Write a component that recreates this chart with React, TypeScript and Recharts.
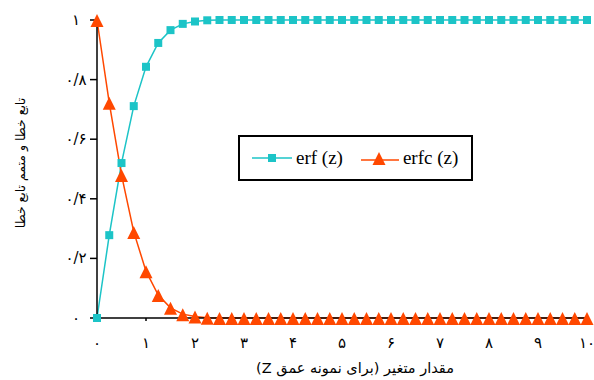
import { LineChart, Line, XAxis, YAxis } from 'recharts';

const zValues = [
  0, 0.25, 0.5, 0.75, 1, 1.25, 1.5, 1.75, 2, 2.25, 2.5, 2.75, 3, 3.25, 3.5, 3.75,
  4, 4.25, 4.5, 4.75, 5, 5.25, 5.5, 5.75, 6, 6.25, 6.5, 6.75, 7, 7.25, 7.5, 7.75,
  8, 8.25, 8.5, 8.75, 9, 9.25, 9.5, 9.75, 10,
];
const erfValues = [
  0, 0.278, 0.52, 0.711, 0.843, 0.923, 0.966, 0.987, 0.995, 0.999, 1, 1, 1, 1, 1, 1,
  1, 1, 1, 1, 1, 1, 1, 1, 1, 1, 1, 1, 1, 1, 1, 1,
  1, 1, 1, 1, 1, 1, 1, 1, 1,
];
const erfcValues = [
  1, 0.722, 0.48, 0.289, 0.157, 0.077, 0.034, 0.013, 0.005, 0.001, 0, 0, 0, 0, 0, 0,
  0, 0, 0, 0, 0, 0, 0, 0, 0, 0, 0, 0, 0, 0, 0, 0,
  0, 0, 0, 0, 0, 0, 0, 0, 0,
];
const xTicks = [0, 1, 2, 3, 4, 5, 6, 7, 8, 9, 10];
const xTickLabels = ['۰', '۱', '۲', '۳', '۴', '۵', '۶', '۷', '۸', '۹', '۱۰'];
const yTicks = [0, 0.2, 0.4, 0.6, 0.8, 1];
const yTickLabels = ['۰', '۰/۲', '۰/۴', '۰/۶', '۰/۸', '۱'];

const CYAN = '#1CC4C7';
const ORANGE = '#FF4800';

const data = zValues.map((z, i) => ({ z, erf: erfValues[i], erfc: erfcValues[i] }));

const SquareDot = (props: any) => {
  const { cx, cy, index } = props;
  if (cx == null || cy == null) return null;
  return <rect key={'s' + index} x={cx - 4} y={cy - 4} width={8} height={8} fill={CYAN} />;
};

const TriangleDot = (props: any) => {
  const { cx, cy, index } = props;
  if (cx == null || cy == null) return null;
  return (
    <polygon
      key={'t' + index}
      points={`${cx},${cy - 6} ${cx - 6.5},${cy + 7} ${cx + 6.5},${cy + 7}`}
      fill={ORANGE}
    />
  );
};

const XTick = (props: any) => {
  const { x, y, payload } = props;
  const i = xTicks.indexOf(payload.value);
  return (
    <text x={x} y={y} dy={27} textAnchor="middle" fontSize={15} fontFamily="DejaVu Sans" fill="#000">
      {xTickLabels[i]}
    </text>
  );
};

const YTick = (props: any) => {
  const { x, y, payload } = props;
  const i = yTicks.findIndex((t) => Math.abs(t - payload.value) < 1e-6);
  return (
    <text x={x - 14} y={y} dy={5} textAnchor="middle" fontSize={15} fontFamily="DejaVu Sans" fill="#000">
      {yTickLabels[i]}
    </text>
  );
};

const LegendBox = () => (
  <div
    style={{
      position: 'absolute',
      left: 238,
      top: 135,
      width: 231,
      height: 42,
      border: '2px solid #000',
      background: '#fff',
      display: 'flex',
      alignItems: 'center',
      fontFamily: 'Liberation Serif, serif',
      fontSize: 19,
      color: '#000',
    }}
  >
    <svg width={50} height={20} style={{ marginLeft: 10 }}>
      <line x1={2} y1={10} x2={42} y2={10} stroke={CYAN} strokeWidth={1.5} />
      <rect x={18} y={6} width={8} height={8} fill={CYAN} />
    </svg>
    <span style={{ marginLeft: -4 }}>erf (z)</span>
    <svg width={44} height={20} style={{ marginLeft: 16 }}>
      <line x1={2} y1={12} x2={40} y2={12} stroke={ORANGE} strokeWidth={1.5} />
      <polygon points="20,4 13.5,17 26.5,17" fill={ORANGE} />
    </svg>
    <span>erfc (z)</span>
  </div>
);

export default function App() {
  return (
    <div style={{ position: 'absolute', left: 0, top: 0, width: 594, height: 380, background: '#fff' }}>
      <LineChart width={594} height={380} data={data} margin={{ top: 20, right: 7, bottom: 0, left: 0 }}>
        <XAxis
          dataKey="z"
          type="number"
          domain={[0, 10]}
          ticks={xTicks}
          tick={<XTick />}
          tickSize={3}
          tickMargin={0}
          height={62}
          stroke="#000"
          strokeWidth={1.5}
          interval={0}
        />
        <YAxis
          type="number"
          domain={[0, 1]}
          ticks={yTicks}
          tick={<YTick />}
          tickSize={7}
          tickMargin={0}
          width={97}
          stroke="#000"
          strokeWidth={1.5}
          interval={0}
        />
        <Line
          dataKey="erf"
          stroke={CYAN}
          strokeWidth={1.5}
          dot={<SquareDot />}
          activeDot={false}
          isAnimationActive={false}
        />
        <Line
          dataKey="erfc"
          stroke={ORANGE}
          strokeWidth={1.5}
          dot={<TriangleDot />}
          activeDot={false}
          isAnimationActive={false}
        />
      </LineChart>
      <LegendBox />
      <div
        style={{
          position: 'absolute',
          left: 20,
          top: 163,
          transform: 'translate(-50%, -50%) rotate(-90deg)',
          whiteSpace: 'nowrap',
          fontFamily: 'DejaVu Sans',
          fontSize: 12.5,
          direction: 'rtl',
        }}
      >
        تابع خطا و متمم تابع خطا
      </div>
      <div
        style={{
          position: 'absolute',
          left: 355,
          top: 368,
          transform: 'translate(-50%, -50%)',
          whiteSpace: 'nowrap',
          fontFamily: 'DejaVu Sans',
          fontSize: 14.5,
          direction: 'rtl',
        }}
      >
        مقدار متغیر (برای نمونه عمق Z)
      </div>
    </div>
  );
}
